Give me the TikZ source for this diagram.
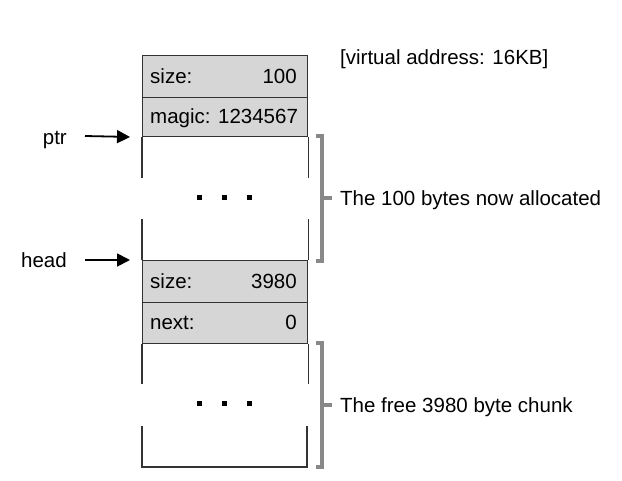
\documentclass[tikz,border=0pt]{standalone}
\usepackage{fontspec}
\setmainfont{Liberation Sans}
\usetikzlibrary{arrows.meta}
\definecolor{rowgray}{HTML}{D6D6D6}
\definecolor{edgegray}{HTML}{333333}
\definecolor{bracketgray}{HTML}{888888}
\begin{document}
\begin{tikzpicture}[x=1pt,y=-1pt,
  txt/.style={font=\fontsize{20.5}{24}\selectfont, text height=14.7pt, text depth=0pt, inner sep=0pt},
  rowbox/.style={draw=edgegray, line width=1.2pt, fill=rowgray, minimum width=165pt, inner sep=0pt, anchor=north west},
  edge/.style={draw=edgegray, line width=1.2pt},
  ptrarrow/.style={line width=1.8pt, -{Triangle[length=13pt,width=13pt]}, shorten >=12pt},
  brk/.style={draw=bracketgray, line width=3.6pt},
  dot/.style={fill=black, minimum size=5pt, inner sep=0pt, draw=none}]
\useasboundingbox (0,0) rectangle (622,480);

% header rows
\node[rowbox, minimum height=42pt] (r1) at (142,55) {};
\node[rowbox, minimum height=39pt] (r2) at (142,97) {};
\node[rowbox, minimum height=42pt] (r3) at (142,260) {};
\node[rowbox, minimum height=41pt] (r4) at (142,302) {};

\node[txt, anchor=west] (s1) at (150,76) {size:};
\node[txt, anchor=east] (v1) at (297,76) {100};
\node[txt, anchor=west] (m1) at (150,116.5) {magic: 1234567};
\node[txt, anchor=west] (s2) at (150,281) {size:};
\node[txt, anchor=east] (v2) at (297,281) {3980};
\node[txt, anchor=west] (n2) at (150,322.5) {next:};
\node[txt, anchor=east] (v3) at (297,322.5) {0};

% allocated block sides
\draw[edge] (r2.south west) -- ++(0,41);
\draw[edge] (r2.south east) -- ++(0,41);
\draw[edge] (r3.north west) -- ++(0,-41);
\draw[edge] (r3.north east) -- ++(0,-41);
% free block sides
\coordinate (fbl) at (142,467);
\coordinate (fbr) at (307,467);
\draw[edge] (r4.south west) -- ++(0,40);
\draw[edge] (r4.south east) -- ++(0,40);
\draw[edge] (fbl) -- ++(0,-41);
\draw[edge] (fbr) -- ++(0,-41);
\draw[edge, line cap=rect] (fbl) -- (fbr);

% dots
\node[dot] (d1) at (199,197) {};
\node[dot] (d2) at (224,197) {};
\node[dot] (d3) at (249,197) {};
\node[dot] (d4) at (199,403) {};
\node[dot] (d5) at (224,403) {};
\node[dot] (d6) at (249,403) {};

% pointers
\node[txt, anchor=east] (ptr) at (67,137) {ptr};
\node[txt, anchor=east] (head) at (67,260.5) {head};
\draw[ptrarrow] (85,136) -- (r2.south west);
\draw[ptrarrow] (85,260) -- (r3.north west);

% brackets
\draw[brk] (316,136) -- (322,136) -- (322,261) -- (316,261);
\draw[brk] (322,198) -- (332,198);
\draw[brk] (316,343) -- (322,343) -- (322,467) -- (316,467);
\draw[brk] (322,405) -- (332,405);

\node[txt, anchor=west] (alloc) at (340,198) {The 100 bytes now allocated};
\node[txt, anchor=west] (free) at (340,405) {The free 3980 byte chunk};
\node[txt, anchor=west] (va) at (340,57) {[virtual address: 16KB]};
\end{tikzpicture}
\end{document}
